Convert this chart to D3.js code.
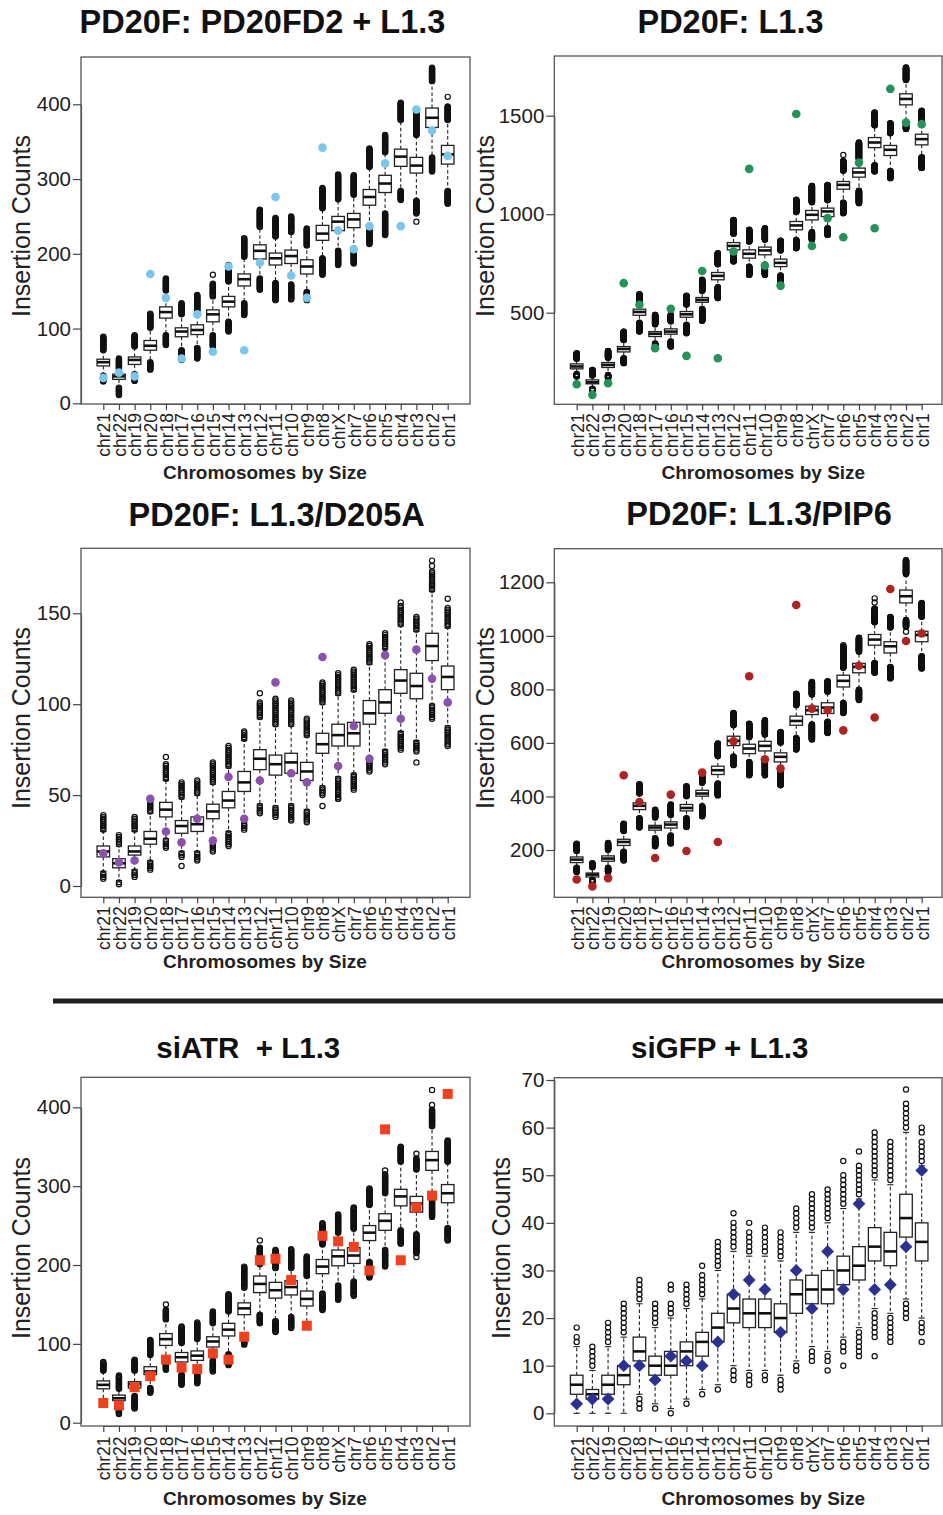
<!DOCTYPE html>
<html>
<head>
<meta charset="utf-8">
<script src="https://cdn.jsdelivr.net/npm/d3@7"></script>
<style>
  body { margin: 0; background: #fff; }
  text { font-family: "Liberation Sans", Arial, Helvetica, sans-serif; }
</style>
</head>
<body>
<svg id="fig" width="943" height="1515"></svg>
<script>
// Chromosomes ordered by size
const chroms = ["chr21","chr22","chr19","chr20","chr18","chr17","chr16","chr15","chr14","chr13","chr12",
                "chr11","chr10","chr9","chr8","chrX","chr7","chr6","chr5","chr4","chr3","chr2","chr1"];

// ---- PD20F: PD20FD2 + L1.3 ----
const aQ1   = [50, 32, 52, 71, 114, 89, 92, 109, 129, 157, 193, 185, 187, 173, 218, 231, 235, 265, 282, 317, 308, 369, 320];
const aMed  = [55, 36, 58, 77, 122, 96, 98, 119, 136, 166, 204, 194, 197, 183, 227, 243, 246, 276, 294, 330, 318, 382, 333];
const aQ3   = [59, 39, 62, 84, 129, 101, 105, 125, 143, 173, 212, 201, 205, 192, 238, 250, 254, 286, 305, 340, 329, 395, 345];
const aWhi  = [70, 46, 75, 100, 150, 118, 122, 142, 162, 195, 235, 222, 228, 210, 260, 272, 278, 315, 335, 378, 358, 430, 378];
const aWlo  = [38, 22, 40, 56, 92, 72, 75, 92, 110, 135, 168, 162, 160, 150, 195, 205, 208, 235, 255, 285, 272, 330, 285];
const aHiMax= [89, 60, 91, 120, 167, 134, 145, 160, 185, 221, 259, 248, 250, 234, 288, 306, 305, 341, 359, 402, 388, 449, 397];
const aLoMin= [29, 11, 30, 45, 78, 58, 60, 76, 96, 118, 152, 138, 139, 138, 172, 185, 187, 213, 225, 272, 254, 310, 267];
const aObs  = [34, 41, 36, 173, 141, 60, 119, 69, 183, 71, 188, 276, 171, 141, 342, 231, 206, 237, 321, 237, 393, 365, 331];
const aExtra= [["chr15", 172], ["chr3", 243], ["chr1", 410]];

// ---- PD20F: L1.3 ----
const bQ1   = [215, 139, 222, 301, 487, 379, 391, 477, 553, 667, 819, 777, 794, 734, 921, 971, 988, 1127, 1188, 1338, 1298, 1555, 1352];
const bMed  = [227, 147, 235, 316, 504, 393, 404, 492, 565, 687, 839, 799, 816, 753, 943, 997, 1014, 1149, 1212, 1364, 1327, 1585, 1381];
const bQ3   = [240, 159, 247, 328, 518, 404, 418, 506, 577, 704, 856, 819, 833, 772, 963, 1019, 1031, 1166, 1234, 1389, 1349, 1611, 1406];
const bWhi  = [265, 180, 270, 360, 555, 440, 455, 540, 610, 745, 900, 860, 870, 815, 1010, 1060, 1070, 1220, 1280, 1450, 1410, 1680, 1470];
const bWlo  = [190, 115, 185, 270, 450, 345, 355, 440, 520, 630, 790, 735, 745, 690, 870, 910, 930, 1060, 1120, 1250, 1220, 1460, 1290];
const bHiMax= [294, 210, 306, 404, 594, 489, 489, 586, 667, 802, 971, 921, 929, 866, 1073, 1144, 1149, 1270, 1364, 1516, 1462, 1745, 1525];
const bLoMin= [176, 105, 168, 244, 404, 328, 328, 396, 459, 574, 760, 692, 692, 633, 827, 870, 895, 1005, 1056, 1217, 1183, 1432, 1234];
const bObs  = [137, 83, 142, 650, 540, 320, 520, 281, 712, 269, 811, 1230, 739, 638, 1509, 839, 980, 883, 1262, 929, 1636, 1465, 1457];
const bExtra= [["chr6", 1301], ["chr12", 965]];

// ---- PD20F: L1.3/D205A ----
const cQ1   = [16, 10, 17, 23, 38, 29, 30, 37, 43, 52, 64, 61, 62, 58, 73, 77, 77, 89, 95, 106, 103, 124, 108];
const cMed  = [19, 12.5, 19, 26, 42, 33, 34, 41, 47, 57, 70, 67, 68, 63, 78, 83, 84, 95, 101, 113, 110, 132, 115];
const cQ3   = [22, 15, 22, 30, 46, 36, 38, 45, 52, 63, 75, 72, 73, 68, 84, 89, 90, 102, 108, 119, 117, 139, 121];
const cWhi  = [30, 22, 30, 40, 58, 48, 50, 56, 65, 80, 92, 88, 88, 82, 100, 105, 107, 122, 130, 143, 140, 162, 142];
const cWlo  = [8, 3, 9, 14, 26, 19, 19, 24, 30, 35, 45, 44, 45, 42, 55, 60, 62, 70, 75, 85, 80, 100, 88];
const cHiMax= [39, 28, 38, 46, 67, 57, 58, 68, 77, 85, 101, 103, 102, 92, 112, 117, 119, 133, 139, 154, 148, 173, 153];
const cLoMin= [4, 1, 5, 9, 21, 16, 14, 19, 22, 31, 40, 38, 36, 35, 50, 48, 53, 63, 67, 75, 74, 92, 77];
const cObs  = [18, 13, 14, 48, 30, 24, 37, 25, 60, 37, 58, 112, 62, 57, 126, 66, 88, 70, 127, 92, 130, 114, 101];
const cExtra= [["chr18", 71], ["chr17", 11], ["chr12", 106], ["chr8", 44], ["chrX", 48], ["chr4", 156],
               ["chr3", 68], ["chr2", 176], ["chr2", 179], ["chr1", 158]];

// ---- PD20F: L1.3/PIP6 ----
const dQ1   = [153, 99, 158, 217, 351, 274, 282, 346, 401, 482, 590, 560, 570, 529, 666, 706, 710, 809, 862, 965, 936, 1123, 978];
const dMed  = [164, 108, 168, 230, 365, 284, 295, 357, 411, 498, 608, 579, 589, 548, 682, 722, 732, 832, 884, 986, 961, 1148, 1003];
const dQ3   = [174, 114, 178, 240, 376, 292, 305, 370, 423, 513, 625, 595, 606, 563, 700, 737, 750, 853, 897, 1005, 978, 1171, 1017];
const dWhi  = [195, 135, 200, 270, 410, 320, 330, 400, 450, 550, 665, 620, 630, 600, 740, 780, 790, 880, 940, 1050, 1030, 1230, 1070];
const dWlo  = [135, 90, 135, 195, 320, 245, 255, 320, 365, 450, 550, 530, 540, 500, 620, 670, 680, 750, 800, 900, 885, 1060, 925];
const dHiMax= [224, 151, 226, 298, 446, 351, 370, 438, 479, 598, 712, 672, 685, 641, 784, 828, 831, 960, 993, 1102, 1071, 1283, 1123];
const dLoMin= [118, 80, 118, 161, 284, 214, 224, 286, 326, 404, 517, 479, 479, 442, 575, 613, 637, 712, 760, 862, 841, 1034, 878];
const dObs  = [90, 64, 95, 479, 379, 170, 407, 196, 489, 230, 606, 849, 539, 504, 1115, 728, 722, 647, 888, 695, 1175, 981, 1009];
const dExtra= [["chr4", 1140], ["chr4", 1125], ["chr2", 1015], ["chr6", 965]];

// ---- siATR + L1.3 ----
const eQ1   = [43, 28, 44, 61, 98, 77, 79, 96, 110, 137, 165, 158, 162, 148, 189, 199, 202, 231, 244, 275, 267, 320, 279];
const eMed  = [48, 31, 49, 65, 106, 83, 85, 103, 118, 145, 176, 168, 172, 157, 198, 211, 212, 241, 256, 287, 278, 333, 291];
const eQ3   = [53, 35, 52, 71, 113, 89, 91, 109, 126, 152, 186, 178, 180, 167, 207, 219, 222, 250, 265, 296, 287, 344, 302];
const eWhi  = [65, 42, 65, 85, 130, 100, 105, 125, 140, 170, 200, 195, 195, 185, 225, 240, 245, 275, 290, 330, 320, 375, 330];
const eWlo  = [30, 18, 35, 45, 80, 62, 63, 80, 88, 110, 138, 130, 135, 128, 165, 175, 180, 205, 220, 245, 240, 290, 248];
const eHiMax= [77, 60, 80, 105, 143, 122, 127, 141, 163, 198, 222, 219, 220, 211, 253, 264, 273, 297, 315, 350, 335, 397, 358];
const eLoMin= [null, 11, 18, 38, 67, 48, 50, 65, 73, 99, 126, 115, 120, null, 143, 156, 161, 184, 198, 227, 215, 261, 231];
const eObs  = [25, 22, 45, 59, 80, 70, 68, 88, 80, 109, 206, 208, 181, 123, 237, 230, 223, 193, 372, 206, 273, 288, 417];
const eExtra= [["chr18", 150], ["chr12", 231], ["chr5", 320], ["chr3", 341], ["chr3", 210], ["chr2", 422], ["chr2", 403]];

// ---- siGFP + L1.3 ----
const fQ1   = [4, 3, 4, 6, 11, 8, 8, 10, 12, 15, 19, 18, 18, 17, 21, 23, 23, 27, 28, 32, 31, 37, 32];
const fMed  = [6, 4, 6, 8, 13, 10, 10, 13, 15, 18, 22, 21, 21, 20, 25, 26, 26, 30, 31, 35, 34, 41, 36];
const fQ3   = [8, 5, 8, 10, 16, 12, 13, 15, 17, 21, 25, 24, 24, 23, 28, 29, 30, 33, 35, 39, 38, 46, 40];
const fWhi  = [14, 9, 14, 16, 23, 18, 20, 22, 24, 30, 34, 33, 33, 32, 38, 38, 40, 43, 45, 49, 48, 59, 52];
const fWlo  = [0, 0, 0, 0, 4, 2, 1, 3, 5, 6, 10, 9, 9, 8, 11, 14, 13, 16, 18, 22, 21, 24, 20];
const fHiMax= [16, 14, 19, 23, 28, 23, 23, 27, 29, 36, 40, 38, 39, 38, 43, 46, 47, 50, 52, 59, 57, 65, 57];
const fLoMin= [null, null, null, null, 1, 1, 0, 2, 4, 5, 7, 6, 7, 5, 9, 11, 11, 13, 12, 16, 15, 20, 17];
const fObs  = [2, 3, 3, 10, 10, 7, 12, 11, 10, 15, 25, 28, 26, 17, 30, 22, 34, 26, 44, 26, 27, 35, 51];
const fExtra= [["chr21", 18], ["chr16", 26], ["chr16", 27], ["chr14", 31], ["chr12", 42], ["chr11", 40],
               ["chr7", 9], ["chr6", 53], ["chr6", 10], ["chr5", 55], ["chr4", 12], ["chr2", 68],
               ["chr1", 59], ["chr1", 60], ["chr1", 15]];

const svg = d3.select("#fig");

// Panel layouts: frame box, x range for first/last chromosome, y reference mapping
const panels = [
  { title: "PD20F: PD20FD2 + L1.3", tx: 262.5, ty: 32.5, tsize: 32.5,
    q1: aQ1, med: aMed, q3: aQ3, whi: aWhi, wlo: aWlo, hiMax: aHiMax, loMin: aLoMin, obs: aObs, extra: aExtra,
    shape: "circle", color: "#7cc6ee",
    fx: [81, 470], fy: [57, 404], xr: [103.3, 447.7], yd: [0, 400], yr: [403.3, 104.3],
    ticks: [0, 100, 200, 300, 400], ylx: 21.5, yly: 226, xlx: 265, xly: 479, lblGap: 9 },
  { title: "PD20F: L1.3", tx: 730.5, ty: 32.5, tsize: 32.5,
    q1: bQ1, med: bMed, q3: bQ3, whi: bWhi, wlo: bWlo, hiMax: bHiMax, loMin: bLoMin, obs: bObs, extra: bExtra,
    shape: "circle", color: "#24935a",
    fx: [554.3, 942], fy: [56, 404.3], xr: [576.7, 921.7], yd: [500, 1500], yr: [312.7, 115.7],
    ticks: [500, 1000, 1500], ylx: 485, yly: 226, xlx: 763.3, xly: 479, lblGap: 9 },
  { title: "PD20F: L1.3/D205A", tx: 276.7, ty: 526, tsize: 32.5,
    q1: cQ1, med: cMed, q3: cQ3, whi: cWhi, wlo: cWlo, hiMax: cHiMax, loMin: cLoMin, obs: cObs, extra: cExtra,
    shape: "circle", color: "#8a52ad",
    fx: [81, 470], fy: [548.3, 897.3], xr: [103.3, 447.7], yd: [0, 150], yr: [886, 613.3],
    ticks: [0, 50, 100, 150], ylx: 21.5, yly: 718, xlx: 265, xly: 968, lblGap: 9 },
  { title: "PD20F: L1.3/PIP6", tx: 759, ty: 524.5, tsize: 32.5,
    q1: dQ1, med: dMed, q3: dQ3, whi: dWhi, wlo: dWlo, hiMax: dHiMax, loMin: dLoMin, obs: dObs, extra: dExtra,
    shape: "circle", color: "#b02323",
    fx: [554.3, 942], fy: [548.7, 897.3], xr: [576.7, 921.7], yd: [200, 1200], yr: [850, 582.3],
    ticks: [200, 400, 600, 800, 1000, 1200], ylx: 485, yly: 718, xlx: 763.3, xly: 968, lblGap: 9 },
  { title: "siATR  + L1.3", tx: 248.3, ty: 1057.5, tsize: 29.5,
    q1: eQ1, med: eMed, q3: eQ3, whi: eWhi, wlo: eWlo, hiMax: eHiMax, loMin: eLoMin, obs: eObs, extra: eExtra,
    shape: "square", color: "#f0401e",
    fx: [81, 470], fy: [1077.3, 1426], xr: [103.3, 447.7], yd: [0, 400], yr: [1422.7, 1107.3],
    ticks: [0, 100, 200, 300, 400], ylx: 21.5, yly: 1248, xlx: 265, xly: 1505, lblGap: 10.5 },
  { title: "siGFP + L1.3", tx: 719.8, ty: 1057.5, tsize: 29.5,
    q1: fQ1, med: fMed, q3: fQ3, whi: fWhi, wlo: fWlo, hiMax: fHiMax, loMin: fLoMin, obs: fObs, extra: fExtra,
    shape: "diamond", color: "#2b3190",
    fx: [554.3, 942], fy: [1077.7, 1426], xr: [576.7, 921.7], yd: [0, 70], yr: [1413.3, 1080],
    ticks: [0, 10, 20, 30, 40, 50, 60, 70], ylx: 501.5, yly: 1248, xlx: 763.3, xly: 1505, lblGap: 10.5 }
];

const ink = "#222";

function drawPanel(p) {
  const g = svg.append("g");
  const x = d3.scalePoint().domain(chroms).range(p.xr);
  const y = d3.scaleLinear().domain(p.yd).range(p.yr);
  const step = (p.xr[1] - p.xr[0]) / (chroms.length - 1);
  const bw = step * 0.8;

  // Title
  g.append("text").attr("x", p.tx).attr("y", p.ty)
    .attr("text-anchor", "middle").attr("font-weight", "bold")
    .attr("font-size", p.tsize).attr("fill", "#111")
    .style("white-space", "pre").text(p.title);

  // Boxplots
  const plot = g.append("g");
  chroms.forEach((c, i) => {
    const cx = x(c);
    const cg = plot.append("g");
    // outlier values: stacked integer counts beyond the whiskers
    let outs = d3.range(p.whi[i] + 1, p.hiMax[i] + 1);
    if (p.loMin[i] !== null) outs = outs.concat(d3.range(p.loMin[i], p.wlo[i]));
    p.extra.filter(e => e[0] === c).forEach(e => outs.push(e[1]));

    // whiskers
    cg.append("line").attr("x1", cx).attr("x2", cx).attr("y1", y(p.q3[i])).attr("y2", y(p.whi[i]))
      .attr("stroke", ink).attr("stroke-width", 1.1).attr("stroke-dasharray", "3.5,2.5");
    cg.append("line").attr("x1", cx).attr("x2", cx).attr("y1", y(p.q1[i])).attr("y2", y(p.wlo[i]))
      .attr("stroke", ink).attr("stroke-width", 1.1).attr("stroke-dasharray", "3.5,2.5");
    [p.whi[i], p.wlo[i]].forEach(v => {
      cg.append("line").attr("x1", cx - bw / 4).attr("x2", cx + bw / 4)
        .attr("y1", y(v)).attr("y2", y(v)).attr("stroke", ink).attr("stroke-width", 1.1);
    });
    // box
    cg.append("rect").attr("x", cx - bw / 2).attr("y", y(p.q3[i]))
      .attr("width", bw).attr("height", y(p.q1[i]) - y(p.q3[i]))
      .attr("fill", "#fff").attr("stroke", ink).attr("stroke-width", 1.3);
    cg.append("line").attr("x1", cx - bw / 2).attr("x2", cx + bw / 2)
      .attr("y1", y(p.med[i])).attr("y2", y(p.med[i]))
      .attr("stroke", "#111").attr("stroke-width", 2.6);
    // outliers
    cg.selectAll("circle.out").data(outs).join("circle").attr("class", "out")
      .attr("cx", cx).attr("cy", d => y(d)).attr("r", 2.6)
      .attr("fill", "none").attr("stroke", "#111").attr("stroke-width", 1.2);
  });

  // Observed counts
  const obsG = g.append("g");
  chroms.forEach((c, i) => {
    const cx = x(c), cy = y(p.obs[i]);
    if (p.shape === "circle") {
      obsG.append("circle").attr("cx", cx).attr("cy", cy).attr("r", 4.3).attr("fill", p.color);
    } else if (p.shape === "square") {
      obsG.append("rect").attr("x", cx - 5).attr("y", cy - 5).attr("width", 10).attr("height", 10).attr("fill", p.color);
    } else {
      const s = 6.4;
      obsG.append("path").attr("d", `M${cx},${cy - s}L${cx + s},${cy}L${cx},${cy + s}L${cx - s},${cy}Z`).attr("fill", p.color);
    }
  });

  // Frame
  g.append("rect").attr("x", p.fx[0]).attr("y", p.fy[0])
    .attr("width", p.fx[1] - p.fx[0]).attr("height", p.fy[1] - p.fy[0])
    .attr("fill", "none").attr("stroke", "#555").attr("stroke-width", 1.3);

  // Y axis
  const ya = g.append("g").attr("transform", `translate(${p.fx[0]},0)`)
    .call(d3.axisLeft(y).tickValues(p.ticks).tickSize(8).tickSizeOuter(0).tickPadding(2).tickFormat(d3.format("d")));
  ya.select(".domain").attr("stroke", "#555").attr("stroke-width", 1.2);
  ya.selectAll(".tick line").attr("stroke", "#444").attr("stroke-width", 1.2);
  ya.selectAll(".tick text").attr("font-size", 20.5).attr("fill", "#222")
    .attr("font-family", "'Liberation Sans', Arial, sans-serif");

  // X axis
  const xa = g.append("g").attr("transform", `translate(0,${p.fy[1]})`)
    .call(d3.axisBottom(x).tickSize(6).tickSizeOuter(0));
  xa.select(".domain").attr("stroke", "#555").attr("stroke-width", 1.2);
  xa.selectAll(".tick line").attr("stroke", "#444").attr("stroke-width", 1.2);
  xa.selectAll(".tick text")
    .attr("transform", "rotate(-90)")
    .attr("x", -p.lblGap).attr("y", 0).attr("dy", "0.36em")
    .attr("text-anchor", "end")
    .attr("font-size", 17.5).attr("fill", "#222")
    .attr("font-family", "'Liberation Sans', Arial, sans-serif");

  // Axis titles
  g.append("text").attr("transform", `translate(${p.ylx},${p.yly}) rotate(-90)`)
    .attr("text-anchor", "middle").attr("dy", "0.35em")
    .attr("font-size", 25).attr("fill", "#222").text("Insertion Counts");
  g.append("text").attr("x", p.xlx).attr("y", p.xly)
    .attr("text-anchor", "middle").attr("font-weight", "bold")
    .attr("font-size", 19).attr("fill", "#222").text("Chromosomes by Size");
}

panels.forEach(drawPanel);

// Divider between the PD20F panels and the siRNA panels
svg.append("line").attr("x1", 53).attr("x2", 943).attr("y1", 1001).attr("y2", 1001)
  .attr("stroke", "#231f20").attr("stroke-width", 5);
</script>
</body>
</html>
